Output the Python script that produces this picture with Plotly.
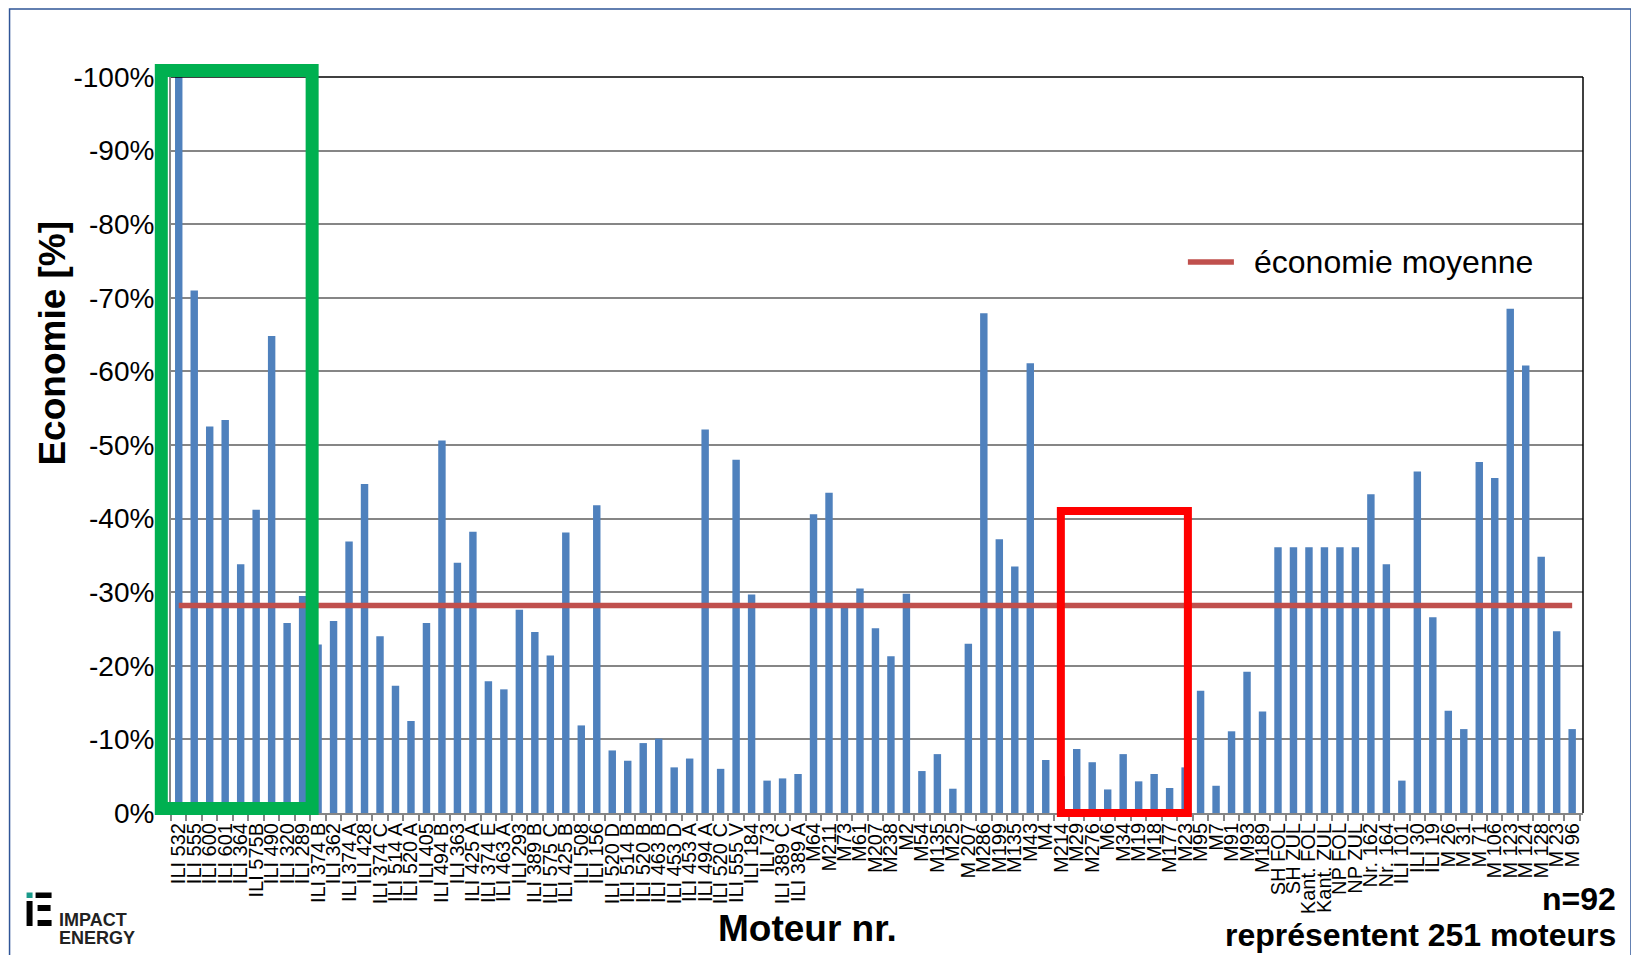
import plotly.graph_objects as go

labels = ["ILI 532", "ILI 555", "ILI 600", "ILI 601", "ILI 364", "ILI 575B", "ILI 490", "ILI 320", "ILI 289",
          "ILI 374 B", "ILI 362", "ILI 374 A", "ILI 428", "ILI 374 C", "ILI 514 A", "ILI 520 A", "ILI 405",
          "ILI 494 B", "ILI 363", "ILI 425 A", "ILI 374 E", "ILI 463 A", "ILI 293", "ILI 389 B", "ILI 575 C",
          "ILI 425 B", "ILI 508", "ILI 156", "ILI 520 D", "ILI 514 B", "ILI 520 B", "ILI 463 B", "ILI 453 D",
          "ILI 453 A", "ILI 494 A", "ILI 520 C", "ILI 555 V", "ILI 184", "ILI 73", "ILI 389 C", "ILI 389 A",
          "M64", "M211", "M73", "M61", "M207", "M238", "M2", "M54", "M135", "M25", "M 207", "M286", "M199",
          "M135", "M43", "M4", "M214", "M29", "M276", "M6", "M34", "M19", "M18", "M177", "M23", "M95", "M7",
          "M91", "M93", "M189", "SH FOL", "SH ZUL", "Kant. FOL", "Kant. ZUL", "NP FOL", "NP ZUL", "Nr. 162",
          "Nr. 164", "ILI 101", "ILI 30", "ILI 19", "M 26", "M 31", "M 71", "M 106", "M 123", "M 124",
          "M 128", "M 23", "M 96"]

economie = [-100, -71.0, -52.5, -53.4, -33.8, -41.2, -64.8, -25.8, -29.5,
            -22.9, -26.1, -36.9, -44.7, -24.0, -17.3, -12.5, -25.8,
            -50.6, -34.0, -38.2, -17.9, -16.8, -27.6, -24.6, -21.4,
            -38.1, -11.9, -41.8, -8.5, -7.1, -9.5, -10.1, -6.2,
            -7.4, -52.1, -6.0, -48.0, -29.7, -4.4, -4.7, -5.3,
            -40.6, -43.5, -28.1, -30.5, -25.1, -21.3, -29.8, -5.7, -8.0, -3.3, -23.0, -67.9, -37.2,
            -33.5, -61.1, -7.2, -5.0, -8.7, -6.9, -3.2, -8.0, -4.3, -5.3, -3.4, -6.2, -16.6, -3.7,
            -11.1, -19.2, -13.8, -36.1, -36.1, -36.1, -36.1, -36.1, -36.1, -43.3,
            -33.8, -4.4, -46.4, -26.6, -13.9, -11.4, -47.7, -45.5, -68.5, -60.8,
            -34.8, -24.7, -11.4]

economie_moyenne = -28.2

y_tickvals = [0, -10, -20, -30, -40, -50, -60, -70, -80, -90, -100]
y_ticktext = ["0%", "-10%", "-20%", "-30%", "-40%", "-50%", "-60%", "-70%", "-80%", "-90%", "-100%"]

assert len(labels) == len(economie)
idx = list(range(len(labels)))

# page is offset by the browser's default 8px body margin
O = 8
W, H = 1639, 955
L, R, T, B = 171.4, 1583.0, 77.0, 813.0  # plot area in page pixels


def px(x):
    return (x - L) / (R - L)


def py(y):
    return (B - y) / (B - T)


fig = go.Figure()
fig.add_trace(go.Bar(x=idx, y=economie, marker=dict(color="#4F81BD", line=dict(width=0)),
                     showlegend=False, hoverinfo="y"))
fig.add_trace(go.Scatter(x=idx, y=[economie_moyenne] * len(idx), mode="lines",
                         line=dict(color="#C0504D", width=5.5), name="économie moyenne",
                         showlegend=False))

shapes = [
    # plot frame top/right (black)
    dict(type="line", xref="paper", yref="paper", x0=0, x1=1, y0=1, y1=1, line=dict(color="black", width=1.5)),
    dict(type="line", xref="paper", yref="paper", x0=1, x1=1, y0=0, y1=1, line=dict(color="black", width=1.5)),
    # green box
    dict(type="rect", xref="paper", yref="paper", x0=px(161.7), x1=px(312.5), y0=py(808.5), y1=py(70.5),
         line=dict(color="#00B050", width=13)),
    # red box
    dict(type="rect", xref="paper", yref="paper", x0=px(1061), x1=px(1188), y0=py(813), y1=py(511),
         line=dict(color="#FF0000", width=8)),
    # outer border
    dict(type="rect", xref="paper", yref="paper", x0=px(10), x1=px(1631), y0=py(962), y1=py(9),
         line=dict(color="#2F5597", width=1.5)),
    # legend sample line
    dict(type="line", xref="paper", yref="paper", x0=px(1188), x1=px(1234), y0=py(262), y1=py(262),
         line=dict(color="#C0504D", width=5.5)),
    # logo icon
    dict(type="rect", xref="paper", yref="paper", x0=px(27), x1=px(33), y0=py(898), y1=py(892.5),
         fillcolor="#1A9A8A", line=dict(width=0)),
    dict(type="rect", xref="paper", yref="paper", x0=px(27), x1=px(33), y0=py(926), y1=py(901),
         fillcolor="black", line=dict(width=0)),
    dict(type="rect", xref="paper", yref="paper", x0=px(36), x1=px(52), y0=py(898), y1=py(892.5),
         fillcolor="black", line=dict(width=0)),
    dict(type="rect", xref="paper", yref="paper", x0=px(38), x1=px(51), y0=py(911), y1=py(905),
         fillcolor="black", line=dict(width=0)),
    dict(type="rect", xref="paper", yref="paper", x0=px(38), x1=px(52), y0=py(926), y1=py(920),
         fillcolor="black", line=dict(width=0)),
]

annotations = [
    dict(text="économie moyenne", xref="paper", yref="paper", x=px(1252), y=py(262),
         showarrow=False, xanchor="left", yanchor="middle", font=dict(size=32, color="black")),
    dict(text="<b>Economie [%]</b>", xref="paper", yref="paper", x=px(52), y=py(343), textangle=-90,
         showarrow=False, xanchor="center", yanchor="middle", font=dict(size=37, color="black")),
    dict(text="<b>Moteur nr.</b>", xref="paper", yref="paper", x=px(808), y=py(928),
         showarrow=False, xanchor="center", yanchor="middle", font=dict(size=37, color="black")),
    dict(text="<b>n=92</b>", xref="paper", yref="paper", x=px(1618), y=py(899),
         showarrow=False, xanchor="right", yanchor="middle", font=dict(size=32, color="black")),
    dict(text="<b>représentent 251 moteurs</b>", xref="paper", yref="paper", x=px(1618), y=py(935),
         showarrow=False, xanchor="right", yanchor="middle", font=dict(size=32, color="black")),
    dict(text="<b>IMPACT</b>", xref="paper", yref="paper", x=px(57), y=py(920),
         showarrow=False, xanchor="left", yanchor="middle", font=dict(size=18, color="#222")),
    dict(text="<b>ENERGY</b>", xref="paper", yref="paper", x=px(57), y=py(938),
         showarrow=False, xanchor="left", yanchor="middle", font=dict(size=18, color="#222")),
]

fig.update_layout(
    width=W - O, height=H - O,
    margin=dict(l=L - O, r=W - R, t=T - O, b=H - B, pad=0),
    paper_bgcolor="white", plot_bgcolor="white",
    font=dict(family="Liberation Sans, Arial, sans-serif", color="black"),
    bargap=0.52,
    shapes=shapes, annotations=annotations,
    showlegend=False,
)

fig.update_xaxes(
    range=[-0.5, len(idx) - 0.3],
    tickmode="array", tickvals=idx, ticktext=labels, tickangle=-90,
    tickfont=dict(size=20, color="black"),
    ticks="", showgrid=False, zeroline=False,
    showline=True, linecolor="#868686", linewidth=2,
    minor=dict(tick0=-0.5, dtick=1, ticks="outside", ticklen=6, tickcolor="#868686", tickwidth=1.5, showgrid=False),
)
fig.update_yaxes(
    range=[0, -100],
    tickmode="array", tickvals=y_tickvals, ticktext=y_ticktext,
    tickfont=dict(size=28, color="black"),
    showgrid=True, gridcolor="#868686", gridwidth=2,
    zeroline=False, showline=True, linecolor="#868686", linewidth=2,
    ticks="", ticklabelstandoff=9,
)

fig.write_html("out.html")
